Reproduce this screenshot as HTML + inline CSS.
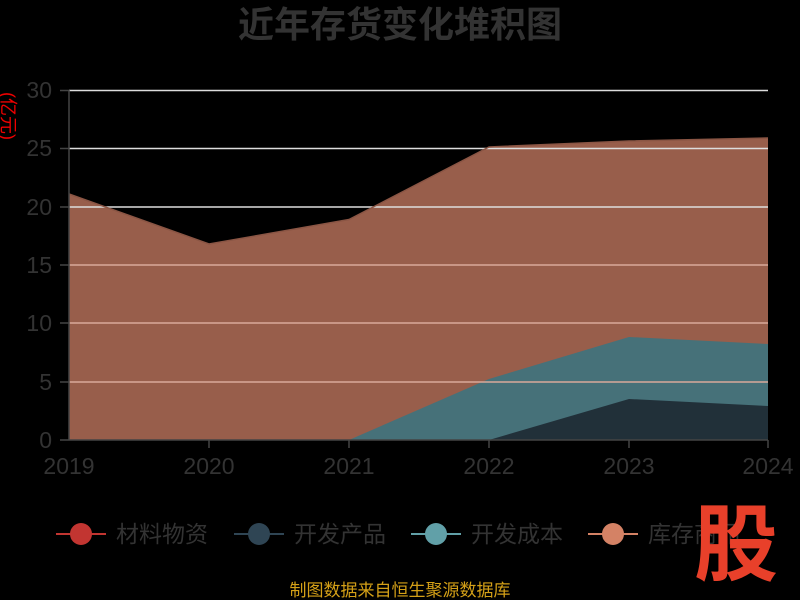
<!DOCTYPE html>
<html><head><meta charset="utf-8"><style>body{margin:0;background:#000;}svg{display:block}</style></head><body>
<svg width="800" height="600" xmlns="http://www.w3.org/2000/svg" font-family="'Liberation Sans','Noto Sans CJK SC',sans-serif">
<rect width="800" height="600" fill="#000"/>
<text x="400" y="37" text-anchor="middle" font-size="36" font-weight="bold" fill="#333">近年存货变化堆积图</text>
<text transform="translate(2,116) rotate(90)" text-anchor="middle" font-size="18" fill="#e00">(亿元)</text>
<polygon points="69,194 209,244 349,219.5 489,147 629,141 768,138 768,440 69,440" fill="#985e4b"/>
<polygon points="349,440 489,379 629,337 768,344 768,440" fill="#467179"/>
<polygon points="489,440 629,399 768,406 768,440" fill="#213039"/>
<g stroke-width="1.5">
<line x1="69" y1="90.5" x2="768" y2="90.5" stroke="#ddd"/>
<line x1="69" y1="148.5" x2="768" y2="148.5" stroke="#ddd"/>
<line x1="69" y1="207" x2="768" y2="207" stroke="#ddd"/>
<line x1="69" y1="265" x2="768" y2="265" stroke="#d9a99a"/>
<line x1="69" y1="323" x2="768" y2="323" stroke="#d9a99a"/>
<line x1="69" y1="382" x2="768" y2="382" stroke="#d9a99a"/>
</g>
<polyline points="69,194 209,244 349,219.5 489,147 629,141 768,138" fill="none" stroke="#8a5544" stroke-width="1.5"/>
<line x1="69" y1="90" x2="69" y2="440" stroke="#444" stroke-width="1.5"/>
<line x1="69" y1="440" x2="768" y2="440" stroke="#444" stroke-width="1.5"/>
<g stroke="#444" stroke-width="1.5">
<line x1="60" y1="90.5" x2="69" y2="90.5"/><line x1="60" y1="148.5" x2="69" y2="148.5"/><line x1="60" y1="207" x2="69" y2="207"/><line x1="60" y1="265" x2="69" y2="265"/><line x1="60" y1="323" x2="69" y2="323"/><line x1="60" y1="382" x2="69" y2="382"/><line x1="60" y1="440" x2="69" y2="440"/>
<line x1="209" y1="440" x2="209" y2="448"/><line x1="349" y1="440" x2="349" y2="448"/><line x1="489" y1="440" x2="489" y2="448"/><line x1="629" y1="440" x2="629" y2="448"/><line x1="768" y1="440" x2="768" y2="448"/>
</g>
<g font-size="23" fill="#333" text-anchor="end">
<text x="52" y="98">30</text><text x="52" y="156">25</text><text x="52" y="215">20</text><text x="52" y="273">15</text><text x="52" y="331">10</text><text x="52" y="390">5</text><text x="52" y="448">0</text>
</g>
<g font-size="23" fill="#333" text-anchor="middle">
<text x="69" y="474">2019</text><text x="209" y="474">2020</text><text x="349" y="474">2021</text><text x="489" y="474">2022</text><text x="629" y="474">2023</text><text x="768" y="474">2024</text>
</g>
<g font-size="23" fill="#333">
<line x1="56" y1="534" x2="106" y2="534" stroke="#c23531" stroke-width="2"/><ellipse cx="81" cy="534" rx="11" ry="11" fill="#c23531"/><text x="116" y="542">材料物资</text>
<line x1="234" y1="534" x2="284" y2="534" stroke="#2f4554" stroke-width="2"/><ellipse cx="259" cy="534" rx="11" ry="11" fill="#2f4554"/><text x="294" y="542">开发产品</text>
<line x1="411" y1="534" x2="461" y2="534" stroke="#61a0a8" stroke-width="2"/><ellipse cx="436" cy="534" rx="11" ry="11" fill="#61a0a8"/><text x="471" y="542">开发成本</text>
<line x1="588" y1="534" x2="638" y2="534" stroke="#d48265" stroke-width="2"/><ellipse cx="613" cy="534" rx="11" ry="11" fill="#d48265"/><text x="648" y="542">库存商品</text>
</g>
<text x="736" y="574" text-anchor="middle" font-size="84" font-weight="bold" fill="#e8402a">股</text>
<text x="400" y="596" text-anchor="middle" font-size="17" fill="#d4a017">制图数据来自恒生聚源数据库</text>
</svg>
</body></html>
